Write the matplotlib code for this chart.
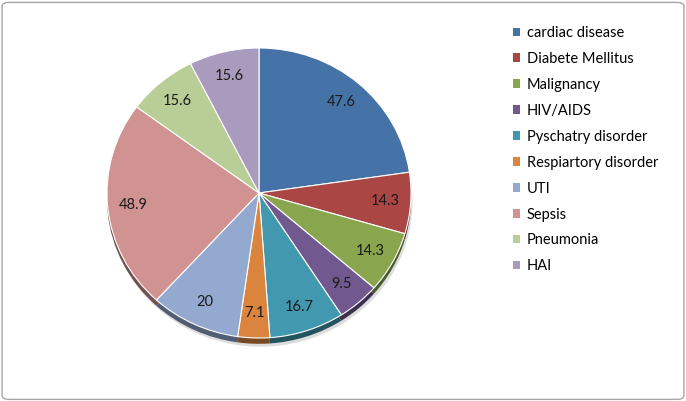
import matplotlib
matplotlib.use("Agg")
import matplotlib.pyplot as plt
from matplotlib.patches import FancyBboxPatch, Patch
import matplotlib.colors as mcolors

categories = ["cardiac disease", "Diabete Mellitus", "Malignancy", "HIV/AIDS",
              "Pyschatry disorder", "Respiartory disorder", "UTI", "Sepsis",
              "Pneumonia", "HAI"]
values = [47.6, 14.3, 14.3, 9.5, 16.7, 7.1, 20, 48.9, 15.6, 15.6]
colors = ["#4572A7", "#AA4643", "#89A54E", "#71588F", "#4198AF",
          "#DB843D", "#93A9CF", "#D19392", "#B9CD96", "#A99BBD"]

plt.rcParams['font.family'] = ['Lato', 'DejaVu Sans']

fig = plt.figure(figsize=(6.86, 4.01), dpi=100)
fig.patch.set_facecolor("white")

# outer frame
frame = FancyBboxPatch((0.003, 0.004), 0.994, 0.99, boxstyle="round,pad=0,rounding_size=0.01",
                       transform=fig.transFigure, fill=False, edgecolor="#A6A6A6", linewidth=1.0)
fig.patches.append(frame)

ax = fig.add_axes([107/686, (401 - 48 - 290) / 401, 304/686, 290/401])
ax.set_xlim(-1, 1)
ax.set_ylim(-1, 1)
ax.axis("off")

total = sum(values)

# depth (shadow side) layer
dark = [tuple(c * 0.55 for c in mcolors.to_rgb(col)) for col in colors]
ax.pie(values, colors=["#555555"] * len(values), startangle=90, counterclock=False, radius=1.0,
       center=(0.01, -0.06), wedgeprops=dict(linewidth=0, alpha=0.2), frame=False)
ax.pie(values, colors=dark, startangle=90, counterclock=False, radius=1.0,
       center=(0, -0.04), wedgeprops=dict(linewidth=0), frame=False)

wedges, _, autotexts = ax.pie(
    values, colors=colors, startangle=90, counterclock=False, radius=1.0,
    center=(0, 0),
    autopct=lambda p: f"{round(p * total / 100, 1):g}", pctdistance=0.83,
    wedgeprops=dict(linewidth=0.8, edgecolor="white"),
    textprops=dict(fontsize=10.5, color="#1a1a1a"), frame=False)
ax.set_xlim(-1, 1)
ax.set_ylim(-1, 1)
ax.set_aspect("auto")

handles = [Patch(facecolor=c, edgecolor="none") for c in colors]
fig.legend(handles, categories, loc="upper left", bbox_to_anchor=(507/686, 1 - 20/401),
           frameon=False, fontsize=10.5, handlelength=0.5, handleheight=0.5,
           handletextpad=0.45, labelspacing=0.82, borderaxespad=0)

fig.savefig("out.png", dpi=100)
